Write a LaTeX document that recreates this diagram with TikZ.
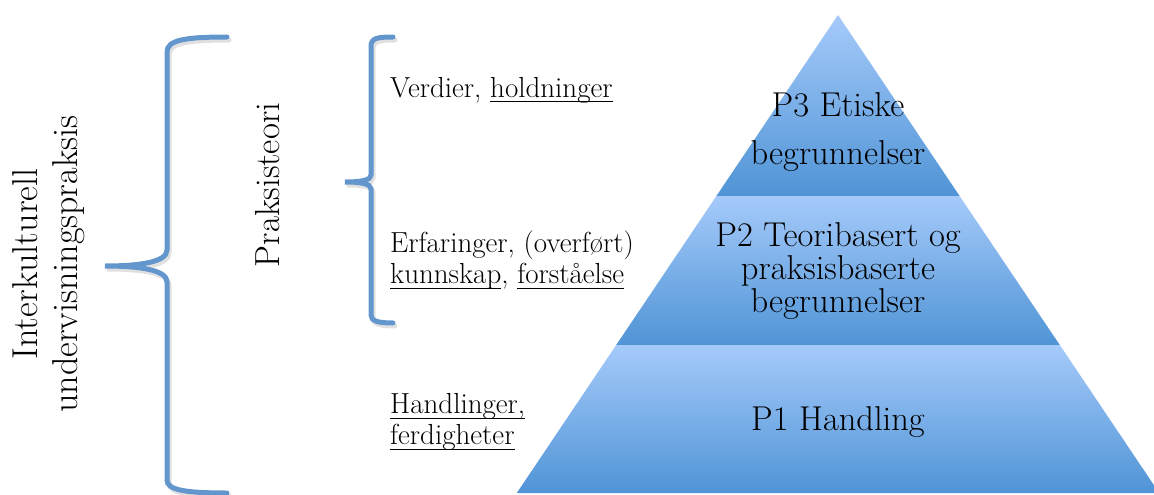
\documentclass[tikz,border=0pt]{standalone}
\usepackage{tikz}
\usetikzlibrary{backgrounds}
\definecolor{braceblue}{RGB}{98,150,205}
\definecolor{pyrtop}{RGB}{165,202,250}
\definecolor{pyrbot}{RGB}{80,148,214}
\newcommand{\undl}[1]{\setbox0\hbox{#1}\rlap{\rule[-5pt]{\wd0}{1.4pt}}\box0}

\begin{document}
\begin{tikzpicture}[x=1pt,y=-1pt,
		band/.style={top color=pyrtop,bottom color=pyrbot,draw=none},
		brace/.style={draw=braceblue,line width=5pt,line cap=round},
		braceshadow/.style={draw=black,line width=5pt,line cap=round,opacity=0.12},
		lbl/.style={font=\fontsize{29}{31}\selectfont,inner sep=0pt,align=left},
		pyr/.style={font=\fontsize{34.5}{33}\selectfont,inner sep=0pt,align=center},
		side/.style={inner sep=0pt,align=center,rotate=90}]
		\useasboundingbox (0,0) rectangle (1154,495);

		\node[pyr] at (838,132.4) (p3) {P3 Etiske\\[15pt]begrunnelser};
		\node[pyr] at (838,271.4) (p2) {P2 Teoribasert og\\praksisbaserte\\begrunnelser};
		\node[pyr,anchor=base] at (838,430) (p1) {P1 Handling};

		\node[lbl,anchor=base west] at (390,97) (verd) {Verdier, \undl{holdninger}};
		\node[lbl,anchor=west] at (390,260.4) (erf) {Erfaringer, (overført)\\\undl{kunnskap}, \undl{forståelse}};
		\node[lbl,anchor=west] at (390,422.3) (hand) {\undl{Handlinger,}\\\undl{ferdigheter}};

		\node[side,font=\fontsize{34.8}{36}\selectfont] at (267.5,185) (praks) {Praksisteori};
		\node[side,font=\fontsize{36}{40}\selectfont] at (49,264) (ikp) {Interkulturell\\undervisningspraksis};

		\begin{scope}[on background layer]
			\shade[band] (838,15) -- (959.6,196) -- (716.4,196) -- cycle;
			\shade[band] (716.4,196) -- (959.6,196) -- (1059.8,345) -- (616.2,345) -- cycle;
			\shade[band] (616.2,345) -- (1059.8,345) -- (1159.2,493) -- (516.8,493) -- cycle;
			\foreach \st/\sh in {braceshadow/{(2,3)},brace/{(0,0)}}{
				\draw[\st,shift=\sh] (227,37) .. controls (185,37) and (167,40) .. (167,52) -- (167,250)
					.. controls (167,262) and (140,266) .. (105,266) .. controls (140,266) and (167,270) .. (167,282)
					-- (167,480) .. controls (167,490) and (185,493) .. (227,493);
				\draw[\st,shift=\sh] (393,37) .. controls (378,37) and (371,38) .. (371,46) -- (371,175)
					.. controls (371,180) and (362,182) .. (345,182) .. controls (362,182) and (371,184) .. (371,189)
					-- (371,315) .. controls (371,321) and (378,323) .. (393,323);
			}
		\end{scope}
	\end{tikzpicture}
\end{document}
